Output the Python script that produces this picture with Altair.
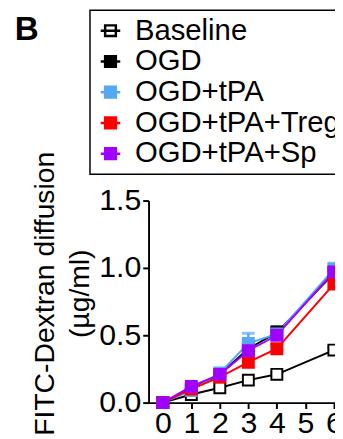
import altair as alt
import pandas as pd

# ---- data ----
groups = ["Baseline", "OGD", "OGD+tPA", "OGD+tPA+Treg", "OGD+tPA+Sp"]
times = [0, 1, 2, 3, 4, 6]
baseline = [0.0, 0.06, 0.11, 0.167, 0.21, 0.39]
ogd = [0.0, 0.10, 0.21, 0.40, 0.52, 0.96]
ogd_tpa = [0.0, 0.09, 0.22, 0.44, 0.51, 0.99]
ogd_tpa_treg = [0.0, 0.10, 0.19, 0.30, 0.40, 0.88]
ogd_tpa_sp = [0.0, 0.12, 0.21, 0.385, 0.50, 0.97]
baseline_err = [0.0, 0.01, 0.01, 0.01, 0.01, 0.02]
ogd_err = [0.0, 0.01, 0.02, 0.03, 0.045, 0.03]
ogd_tpa_err = [0.0, 0.01, 0.02, 0.075, 0.03, 0.045]
ogd_tpa_treg_err = [0.0, 0.01, 0.02, 0.03, 0.03, 0.03]
ogd_tpa_sp_err = [0.0, 0.01, 0.02, 0.03, 0.03, 0.03]
x_ticks = [0, 1, 2, 3, 4, 5, 6]
y_ticks = [0.0, 0.5, 1.0, 1.5]

fill_colors = ["white", "black", "#55a8f2", "#ff0000", "#a000ff"]
stroke_colors = ["black", "black", "#55a8f2", "#ff0000", "#a000ff"]

series = [baseline, ogd, ogd_tpa, ogd_tpa_treg, ogd_tpa_sp]
errs = [baseline_err, ogd_err, ogd_tpa_err, ogd_tpa_treg_err, ogd_tpa_sp_err]
rows = []
for g, vals, es in zip(groups, series, errs):
    for t, v, e in zip(times, vals, es):
        rows.append({"group": g, "time": t, "value": v, "upper": v + e})
df = pd.DataFrame(rows)

FONT = "Liberation Sans"

x_enc = alt.X("time:Q", scale=alt.Scale(domain=[-0.5, 6.04], nice=False, zero=False),
              axis=alt.Axis(values=x_ticks, title=None, format="d"))
y_enc = alt.Y("value:Q", scale=alt.Scale(domain=[0, 1.5], nice=False),
              axis=alt.Axis(values=y_ticks, format=".1f",
                            title=["FITC-Dextran diffusion", "(µg/ml)"]))

base = alt.Chart(df).encode(x=x_enc, y=y_enc)
# line colour scale uses a differently ordered domain so that its (hidden) legend
# is not merged with the point legend
line_color = alt.Color("group:N",
                       scale=alt.Scale(domain=groups[::-1], range=stroke_colors[::-1]),
                       legend=None)

lines = base.mark_line(strokeWidth=2).encode(color=line_color, detail="group:N")

err_rule = base.mark_rule(strokeWidth=2.5).encode(y2="upper:Q", color=line_color)
err_cap = base.mark_tick(orient="horizontal", size=13, thickness=3).encode(
    y=alt.Y("upper:Q"), color=line_color,
)

leg = alt.Legend(
    title=None, orient="none", legendX=-60, legendY=-195,
    symbolType="M-1,0H1M-0.55,-0.55H0.55V0.55H-0.55Z",
    symbolSize=400, symbolStrokeWidth=2.5, symbolOpacity=1,
    strokeColor="black", padding=6,
    labelFont=FONT, labelFontSize=30, labelColor="black", labelOffset=10,
    rowPadding=1.5, labelLimit=400,
)
points = base.mark_point(shape="square", size=125, filled=True, strokeWidth=2, opacity=1).encode(
    fill=alt.Fill("group:N", scale=alt.Scale(domain=groups, range=fill_colors), legend=leg),
    stroke=alt.Stroke("group:N", scale=alt.Scale(domain=groups, range=stroke_colors), legend=leg),
)

label_df = pd.DataFrame({"t": ["B"]})
panel_label = alt.Chart(label_df).mark_text(
    font=FONT, fontSize=34, fontWeight="bold", align="left", baseline="alphabetic", color="black"
).encode(text="t:N", x=alt.value(-137), y=alt.value(-164))

chart = alt.layer(lines, err_rule, err_cap, points, panel_label).properties(
    width=191, height=207,
    autosize=alt.AutoSizeParams(type="none"),
    padding={"left": 144, "top": 192, "right": 0, "bottom": 32},
).configure_view(stroke=None).configure_axis(
    grid=False, domainColor="black", domainWidth=2, tickColor="black", tickWidth=2, tickSize=6,
    labelFont=FONT, labelColor="black", labelPadding=2, labelFontSize=31,
).configure_axisX(
    labelOverlap=False, labelFontSize=31, labelPadding=1,
).configure_axisY(
    titleAngle=-90, titleAlign="center", titleBaseline="alphabetic",
    titleX=-97, titleY=95, titleFontSize=29, titleFontWeight="normal",
    titleLineHeight=35, titleFont=FONT, titleColor="black",
).configure_legend(
    strokeWidth=1.5,
)

chart.save("out.html", embed_options={"renderer": "svg", "actions": False})
